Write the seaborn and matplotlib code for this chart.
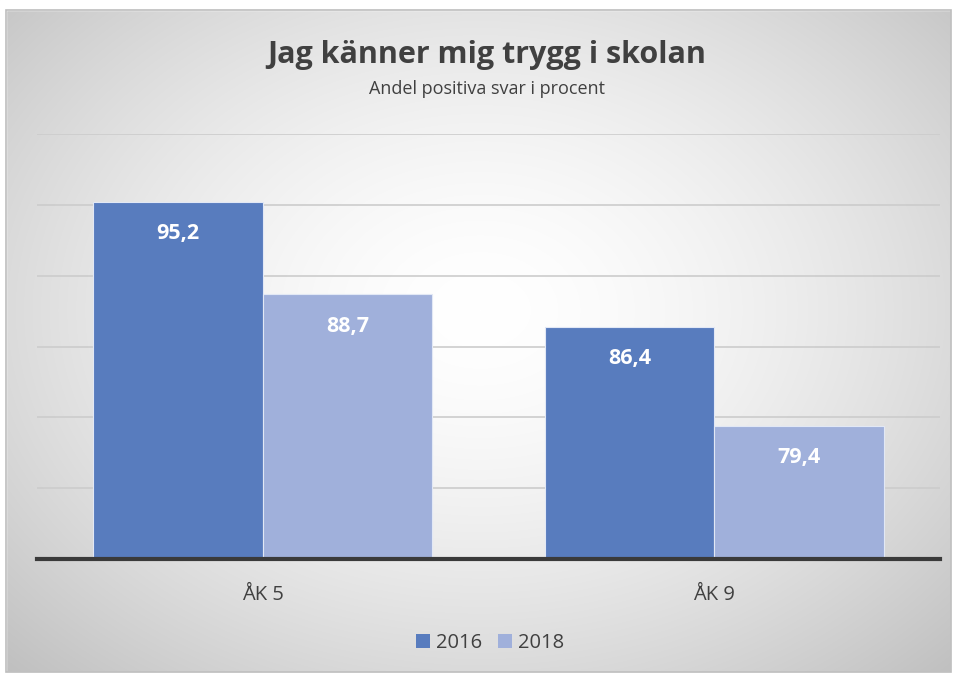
import numpy as np
import pandas as pd
import matplotlib
matplotlib.use("Agg")
import matplotlib.pyplot as plt
import seaborn as sns
from matplotlib.patches import Rectangle, Patch

categories = ["ÅK 5", "ÅK 9"]
years = ["2016", "2018"]
values_2016 = [95.2, 86.4]
values_2018 = [88.7, 79.4]
title = "Jag känner mig trygg i skolan"
subtitle = "Andel positiva svar i procent"

colors = {"2016": "#587CBE", "2018": "#A0B0DB"}

df = pd.DataFrame({
    "kategori": categories * 2,
    "år": ["2016"] * 2 + ["2018"] * 2,
    "värde": values_2016 + values_2018,
})

sns.set_theme(style="white")
plt.rcParams["font.family"] = ["Open Sans", "DejaVu Sans"]

W, H = 957, 677
fig = plt.figure(figsize=(W / 100, H / 100), dpi=100)

# background radial gradient
bg = fig.add_axes([0, 0, 1, 1], zorder=-10)
yy, xx = np.mgrid[0:H, 0:W]
cx, cy = 480, 310
r = np.sqrt(((xx - cx) / 560) ** 2 + ((yy - cy) / 420) ** 2)
val = np.clip(1.0 - 0.185 * r ** 1.6, 0, 1)
img = np.dstack([val, val, val])
bg.imshow(img, extent=[0, W, H, 0], aspect="auto")
bg.add_patch(Rectangle((0, 0), W, 10, color="white"))
bg.add_patch(Rectangle((0, 672), W, 5, color="white"))
bg.add_patch(Rectangle((0, 0), 6, H, color="white"))
bg.add_patch(Rectangle((951, 0), 6, H, color="white"))
bg.add_patch(Rectangle((6, 10), 945, 662, fill=False, edgecolor="#BEBEBE", lw=1.2))
bg.set_xlim(0, W)
bg.set_ylim(H, 0)
bg.axis("off")

ax = fig.add_axes([37 / W, (H - 559) / H, (940 - 37) / W, (559 - 134) / H])
ax.patch.set_alpha(0)

sns.barplot(data=df, x="kategori", y="värde", hue="år", hue_order=years,
            palette=colors, width=0.75, ax=ax, edgecolor="#E2E8F5",
            linewidth=0.8, saturation=1, legend=False, zorder=3)

ax.set_ylim(70, 100)
ax.set_xlim(-0.5, 1.5)
ax.set_yticks([75, 80, 85, 90, 95, 100])
ax.yaxis.grid(True, color="#CCCCCC", lw=1.2, zorder=0)
ax.set_axisbelow(True)
ax.tick_params(axis="y", left=False, labelleft=False)
ax.tick_params(axis="x", bottom=False, labelsize=14.5, colors="#404040", pad=13)
ax.set_xlabel("")
ax.set_ylabel("")
for s in ["top", "left", "right"]:
    ax.spines[s].set_visible(False)
ax.spines["bottom"].set_color("#3A3A3A")
ax.spines["bottom"].set_linewidth(3)
ax.spines["bottom"].set_zorder(5)

for cont in ax.containers:
    for bar in cont:
        h = bar.get_height()
        ax.annotate(f"{h:.1f}".replace(".", ","),
                    (bar.get_x() + bar.get_width() / 2, h),
                    xytext=(0, -32), textcoords="offset pixels",
                    ha="center", va="center", color="white",
                    fontsize=15.5, fontweight="bold", zorder=6)

fig.text(487 / W, 1 - 55 / H, title, ha="center", va="center",
         fontsize=22, fontweight="bold", color="#404040")
fig.text(487 / W, 1 - 89 / H, subtitle, ha="center", va="center",
         fontsize=13, color="#404040")

handles = [Patch(facecolor=colors[y], edgecolor="none") for y in years]
fig.legend(handles, years, loc="center", bbox_to_anchor=(490 / W, 1 - 643 / H),
           ncol=2, frameon=False, fontsize=14.5, handlelength=0.7, handleheight=0.7,
           handletextpad=0.3, columnspacing=0.8, labelcolor="#404040")

fig.savefig("out.png", dpi=100)
